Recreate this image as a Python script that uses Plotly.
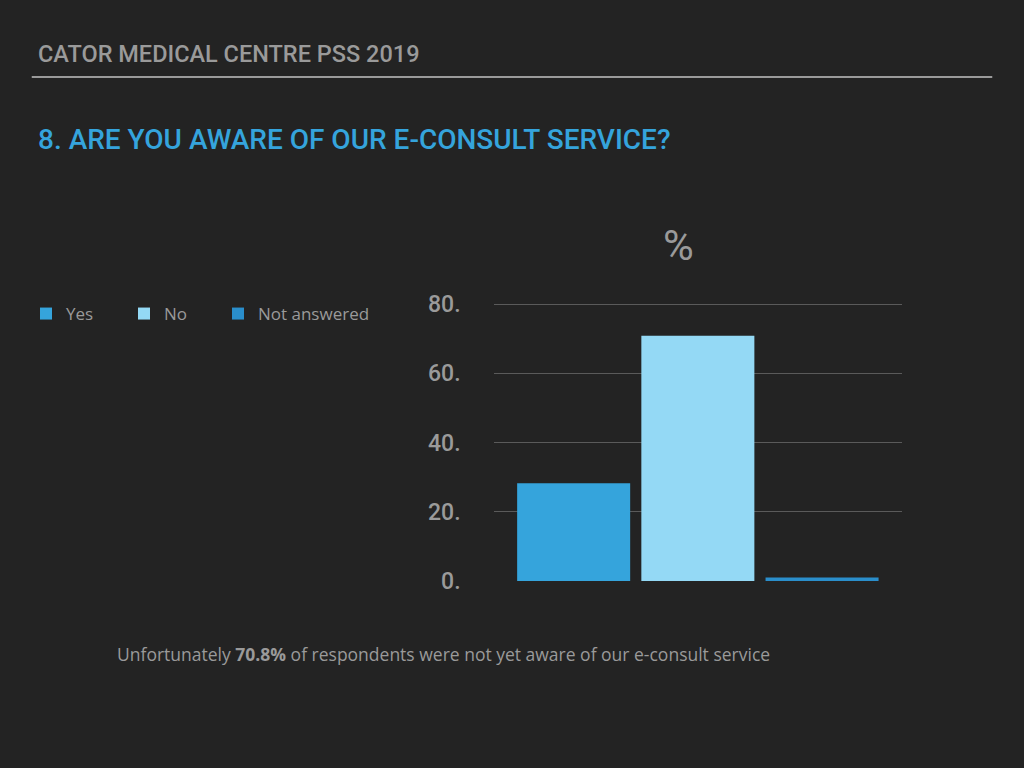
import plotly.graph_objects as go

# survey answers (%)
answers = ["Yes", "No", "Not answered"]
percent = [28.2, 70.8, 1.0]
bar_colors = ["#35a4dc", "#94d9f5", "#2a8ecb"]

tick_vals = [0, 20, 40, 60, 80]
tick_text = ["0.", "20.", "40.", "60.", "80."]

header = "CATOR MEDICAL CENTRE PSS 2019"
question = "8. ARE YOU AWARE OF OUR E-CONSULT SERVICE?"
note = "Unfortunately <b>70.8%</b> of respondents were not yet aware of our e-consult service"

BG = "#232323"
GREY = "#9a9a9a"
COND = "Roboto"

fig = go.Figure()
legend_ids = ["legend", "legend2", "legend3"]
for name, val, col, lg in zip(answers, percent, bar_colors, legend_ids):
    fig.add_bar(x=["%"], y=[val], name=name, legend=lg, marker=dict(color=col, line=dict(width=0)))

# one legend per answer so the entries sit where the slide has them
legend_x = [26, 124, 218]
leg_style = dict(orientation="h", y=1 - 314 / 768, xanchor="left", yanchor="middle",
                 bgcolor="rgba(0,0,0,0)", itemwidth=30,
                 font=dict(family="Open Sans", size=17, color=GREY))

fig.update_layout(
    width=1024, height=768,
    paper_bgcolor=BG, plot_bgcolor=BG,
    margin=dict(l=0, r=0, t=0, b=0, autoexpand=False),
    barmode="group", bargap=0.088, bargroupgap=0.09,
    showlegend=True,
    legend=dict(x=legend_x[0] / 1024, **leg_style),
    legend2=dict(x=legend_x[1] / 1024, **leg_style),
    legend3=dict(x=legend_x[2] / 1024, **leg_style),
    xaxis=dict(domain=[0.482, 0.881], showticklabels=False, showgrid=False,
               zeroline=False, showline=False),
    yaxis=dict(domain=[0.2435, 0.6055], range=[0, 80.3], tickvals=tick_vals, ticktext=tick_text,
               showgrid=True, gridcolor="#5a5a5a", gridwidth=1, zeroline=False,
               tickfont=dict(family=COND, size=23, color=GREY, weight=500), ticklabelstandoff=32),
    font=dict(family="Open Sans", color=GREY),
)

fig.add_shape(type="line", xref="paper", yref="paper", x0=0.031, x1=0.969, y0=1 - 77 / 768, y1=1 - 77 / 768,
              line=dict(color="#9a9a9a", width=2))
fig.add_annotation(text=header, xref="paper", yref="paper", x=0.035, y=1 - 54 / 768,
                   xanchor="left", yanchor="middle", showarrow=False,
                   font=dict(family=COND, size=23.5, color=GREY, weight=500))
fig.add_annotation(text=question, xref="paper", yref="paper", x=0.035, y=1 - 140 / 768,
                   xanchor="left", yanchor="middle", showarrow=False,
                   font=dict(family=COND, size=28, color="#35a4dc", weight=500))
fig.add_annotation(text="%", xref="paper", yref="paper", x=678 / 1024, y=1 - 245 / 768,
                   xanchor="center", yanchor="middle", showarrow=False,
                   font=dict(family=COND, size=42, color=GREY))
fig.add_annotation(text=note, xref="paper", yref="paper", x=115 / 1024, y=1 - 654 / 768,
                   xanchor="left", yanchor="middle", showarrow=False,
                   font=dict(family="Open Sans", size=17.5, color=GREY))

fig.write_html("out.html", config={"displayModeBar": False},
               post_script="document.body.style.margin='0';document.body.style.background='#232323';")
